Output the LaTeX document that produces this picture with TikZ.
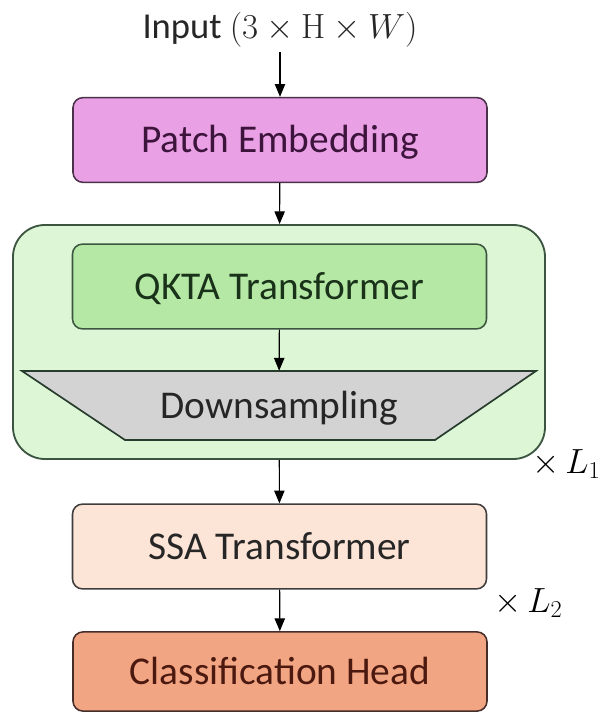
\documentclass[tikz,border=0pt]{standalone}
\usepackage[no-math]{fontspec}
\setmainfont{Carlito}
\usepackage{tikz}
\usetikzlibrary{arrows.meta}
\definecolor{patchfill}{RGB}{234,160,228}
\definecolor{patchline}{RGB}{75,50,75}
\definecolor{patchtext}{RGB}{60,20,60}
\definecolor{stagefill}{RGB}{221,247,214}
\definecolor{stageline}{RGB}{60,85,65}
\definecolor{qktafill}{RGB}{181,232,165}
\definecolor{qktatext}{RGB}{25,50,25}
\definecolor{downfill}{RGB}{211,211,211}
\definecolor{downline}{RGB}{40,60,45}
\definecolor{ssafill}{RGB}{252,228,214}
\definecolor{ssaline}{RGB}{65,60,60}
\definecolor{headfill}{RGB}{242,165,130}
\definecolor{headline}{RGB}{70,45,40}
\definecolor{headtext}{RGB}{75,25,15}

\begin{document}
\begin{tikzpicture}[x=0.25mm, y=-0.25mm,
	box/.style={rectangle, draw, line width=1.1pt, rounded corners=0.25cm, inner sep=0pt,
		minimum width=10.35cm, minimum height=2.12cm, text height=0.64cm, text depth=0pt,
		font=\fontsize{28}{32}\selectfont},
	arr/.style={line width=0.8pt, -{Triangle[length=3.2mm, width=2.6mm]}}]
	\useasboundingbox (0,0) rectangle (601,713);
	% Nodes
	\node[font=\fontsize{26}{30}\selectfont, text=black!85] (input) at (280,30) {Input $(3\times\mathrm{H}\times W)$};
	\node[box, fill=patchfill, draw=patchline, text=patchtext] (patch) at (280,140) {Patch Embedding};
	\node[rectangle, draw=stageline, fill=stagefill, line width=1.3pt, rounded corners=0.8cm,
		minimum width=13.3cm, minimum height=5.85cm] (stage) at (279,342) {};
	\node[box, fill=qktafill, draw=stageline, text=qktatext] (qkta) at (279.5,286.5) {QKTA Transformer};
	\filldraw[fill=downfill, draw=downline, line width=1.2pt] (22,371) -- (536,371) -- (435,440) -- (125,440) -- cycle;
	\node[rectangle, inner sep=0pt, minimum width=7.75cm, minimum height=1.725cm, text height=0.64cm,
		text depth=0pt, text=black!85, font=\fontsize{28}{32}\selectfont] (down) at (279,405.5) {Downsampling};
	\node[box, fill=ssafill, draw=ssaline, text=black!85] (ssa) at (279.5,546.5) {SSA Transformer};
	\node[box, fill=headfill, draw=headline, text=headtext, minimum height=1.98cm] (head) at (280,671.5) {Classification Head};
	\node[anchor=west, inner sep=0pt, font=\fontsize{23}{28}\selectfont] (rep1) at (532,464) {$\times\, L_1$};
	\node[anchor=west, inner sep=0pt, font=\fontsize{23}{28}\selectfont] (rep2) at (494,603) {$\times\, L_2$};
	% Edges
	\draw[arr] (input) -- (patch);
	\draw[arr] (patch) -- (stage);
	\draw[arr] (qkta) -- (down);
	\draw[arr] (stage) -- (ssa);
	\draw[arr] (ssa) -- (head);
\end{tikzpicture}
\end{document}
